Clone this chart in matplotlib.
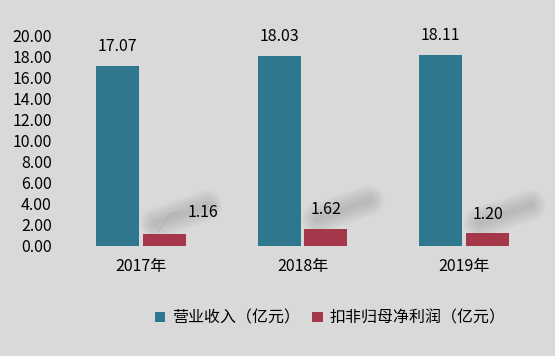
import matplotlib.pyplot as plt
import numpy as np

plt.rcParams['font.family'] = ['Noto Sans CJK SC', 'DejaVu Sans']

years = ["2017年", "2018年", "2019年"]
revenue = [17.07, 18.03, 18.11]
profit = [1.16, 1.62, 1.20]
yticks = [0, 2, 4, 6, 8, 10, 12, 14, 16, 18, 20]

bg = "#d9d9d9"
blue = "#2e778f"
red = "#a5374a"

fig = plt.figure(figsize=(5.55, 3.56), dpi=100, facecolor=bg)
ax = fig.add_axes([60 / 555, 1 - 246 / 356, 485 / 555, 211 / 356], facecolor=bg)

x = np.arange(len(years))
w = 0.266
gap = 0.012
xr = x + w / 2 + gap

# soft diagonal shadow behind the small bars: stacked faint round strokes
for xi, v in zip(xr, profit):
    x0 = xi - w / 2
    for lw in range(22, 2, -3):
        ax.plot([x0 + 0.08, x0 + 0.4], [v + 1.0, v + 2.7], color="#6e6e6e",
                lw=lw, alpha=0.045, solid_capstyle="round", zorder=1)

b1 = ax.bar(x - w / 2 - gap, revenue, w, color=blue, label="营业收入（亿元）", zorder=2)
b2 = ax.bar(xr, profit, w, color=red, label="扣非归母净利润（亿元）", zorder=2)

for xi, v in zip(x - w / 2 - gap, revenue):
    ax.text(xi, v + 1.05, f"{v:.2f}", ha="center", va="bottom", fontsize=11.5, zorder=3)

# small value labels, placed like the reference
offsets = [(0.24, 2.0), (0.0, 1.8), (0.0, 1.75)]
for xi, v, (dx, dy) in zip(xr, profit, offsets):
    ax.text(xi + dx, v + dy, f"{v:.2f}", ha="center", va="center", fontsize=11.5, zorder=3)
    if dx:
        ax.plot([xi - 0.04, xi + 0.04, xi + 0.1], [v + 0.15, v + dy - 0.05, v + dy - 0.05],
                color="#b0b0b0", lw=0.6, zorder=3)

ax.set_xlim(-0.5, 2.5)
ax.set_ylim(0, 20)
ax.set_yticks(yticks)
ax.set_yticklabels([f"{t:.2f}" for t in yticks], fontsize=11.5)
ax.set_xticks(x)
ax.set_xticklabels(years, fontsize=11.5)
ax.tick_params(length=0, pad=6)
ax.tick_params(axis="x", pad=9)
for s in ax.spines.values():
    s.set_visible(False)

fig.legend(handles=[b1, b2], loc="center", bbox_to_anchor=(330 / 555, 1 - 318 / 356),
           ncol=2, frameon=False, fontsize=11.5, handlelength=0.65, handleheight=0.65,
           handletextpad=0.4, columnspacing=0.8)

fig.savefig("out.png", dpi=100, facecolor=bg)
